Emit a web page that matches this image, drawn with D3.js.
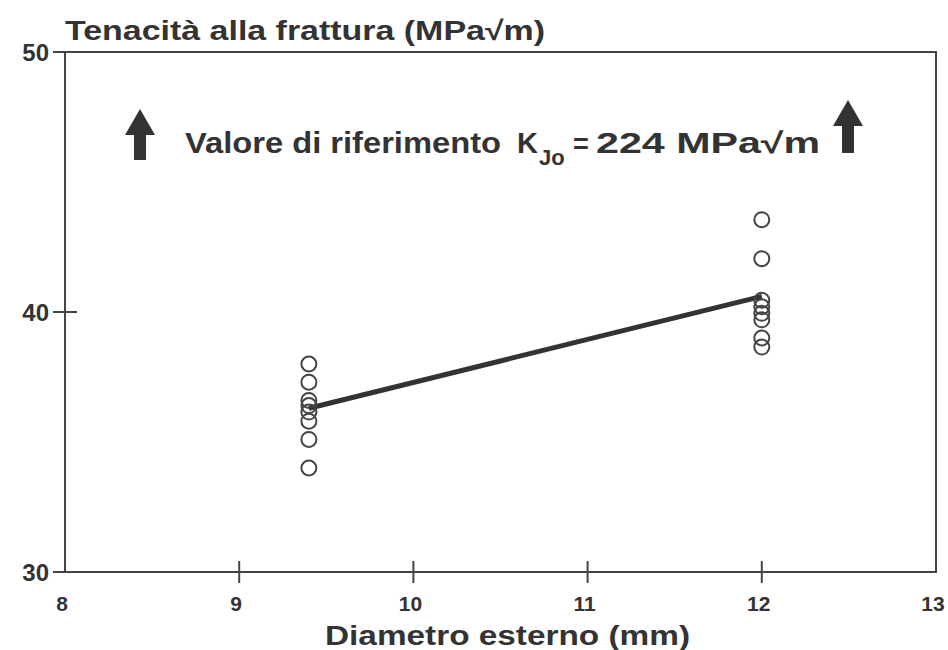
<!DOCTYPE html>
<html>
<head>
<meta charset="utf-8">
<script src="https://cdn.jsdelivr.net/npm/d3@7"></script>
<style>
  body { margin: 0; background: #fff; }
  text { font-family: "Liberation Sans", Arial, sans-serif; font-weight: bold; fill: #333; }
</style>
</head>
<body>
<svg id="chart" width="948" height="650"></svg>
<script>
// diameters (mm) and measured toughness (MPa√m)
const groupDiameters = [9.4, 12]
const toughnessAt94 = [38.0, 37.3, 36.6, 36.4, 36.15, 35.8, 35.1, 34.0]
const toughnessAt12 = [43.55, 42.05, 40.45, 40.2, 39.95, 39.7, 39.0, 38.65]
const trendLine = [36.3, 40.6]
const xTicks = [8, 9, 10, 11, 12, 13]
const yTicks = [30, 40, 50]

const svg = d3.select('#chart')
const margin = { top: 52, right: 10, bottom: 78, left: 65 }
const width = 948
const height = 650

const x = d3.scaleLinear().domain([8, 13]).range([margin.left, width - margin.right - 2])
const y = d3.scaleLinear().domain([30, 50]).range([height - margin.bottom, margin.top])

const ink = '#444'

// frame
svg.append('rect')
    .attr('x', x(8)).attr('y', y(50))
    .attr('width', x(13) - x(8)).attr('height', y(30) - y(50))
    .attr('fill', 'none').attr('stroke', ink).attr('stroke-width', 2)

// x ticks cross the axis line
svg.selectAll('.xtick').data(xTicks.filter(d => d > 8 && d < 13)).join('line')
    .attr('x1', d => x(d)).attr('x2', d => x(d))
    .attr('y1', y(30) - 11).attr('y2', y(30) + 11)
    .attr('stroke', ink).attr('stroke-width', 2)

svg.selectAll('.xlab').data(xTicks).join('text')
    .attr('x', d => x(d) - 3).attr('y', y(30) + 39)
    .attr('text-anchor', 'middle').attr('font-size', 21)
    .text(d => d)

// y ticks
svg.selectAll('.ytick').data(yTicks).join('line')
    .attr('x1', x(8) - 12).attr('x2', d => d === 40 ? x(8) + 12 : x(8))
    .attr('y1', d => y(d)).attr('y2', d => y(d))
    .attr('stroke', ink).attr('stroke-width', 2)

svg.selectAll('.ylab').data(yTicks).join('text')
    .attr('x', x(8) - 16).attr('y', d => y(d) + 9)
    .attr('text-anchor', 'end').attr('font-size', 24)
    .text(d => d)

// titles
svg.append('text')
    .attr('x', x(8)).attr('y', 40)
    .attr('font-size', 27)
    .attr('textLength', 480).attr('lengthAdjust', 'spacingAndGlyphs')
    .text('Tenacità alla frattura (MPa√m)')

svg.append('text')
    .attr('x', 325).attr('y', 645)
    .attr('font-size', 27)
    .attr('textLength', 365).attr('lengthAdjust', 'spacingAndGlyphs')
    .text('Diametro esterno (mm)')

// reference value annotation
const noteY = 153
svg.append('text')
    .attr('x', 185).attr('y', noteY).attr('font-size', 29)
    .attr('textLength', 316).attr('lengthAdjust', 'spacingAndGlyphs')
    .text('Valore di riferimento')
svg.append('text')
    .attr('x', 517).attr('y', noteY).attr('font-size', 29)
    .text('K')
svg.append('text')
    .attr('x', 539).attr('y', noteY + 12).attr('font-size', 22)
    .text('Jo')
svg.append('text')
    .attr('x', 573).attr('y', noteY).attr('font-size', 27)
    .text('=')
svg.append('text')
    .attr('x', 596).attr('y', noteY).attr('font-size', 29)
    .attr('textLength', 224).attr('lengthAdjust', 'spacingAndGlyphs')
    .text('224 MPa√m')

function arrow (cx, top, bottom) {
  const hw = 15, sw = 6, headH = 26
  const pts = [
    [cx, top], [cx + hw, top + headH], [cx + sw, top + headH],
    [cx + sw, bottom], [cx - sw, bottom], [cx - sw, top + headH], [cx - hw, top + headH]
  ]
  svg.append('path')
      .attr('d', d3.line()(pts) + 'Z')
      .attr('fill', '#333')
}
arrow(140, 109, 160)
arrow(848, 100, 153)

// trend line
svg.append('path')
    .datum(groupDiameters.map((d, i) => [d, trendLine[i]]))
    .attr('d', d3.line().x(d => x(d[0])).y(d => y(d[1])))
    .attr('fill', 'none').attr('stroke', '#333').attr('stroke-width', 5)

// measured points
const points = [
  ...toughnessAt94.map(v => [groupDiameters[0], v]),
  ...toughnessAt12.map(v => [groupDiameters[1], v])
]
svg.selectAll('.pt').data(points).join('circle')
    .attr('cx', d => x(d[0])).attr('cy', d => y(d[1]))
    .attr('r', 7.5)
    .attr('fill', 'none').attr('stroke', '#444').attr('stroke-width', 2)
</script>
</body>
</html>
